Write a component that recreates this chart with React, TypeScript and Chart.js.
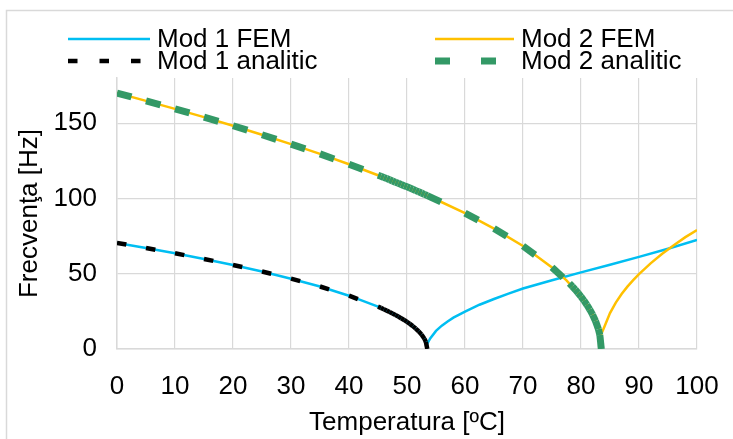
import React, { useEffect, useRef } from "react";
import { Chart, registerables } from "chart.js";

Chart.register(...registerables);

const FONT = '"Liberation Sans", Arial, Helvetica, sans-serif';

// ---- data ----
const seriesLabels = ["Mod 1 FEM", "Mod 2 FEM", "Mod 1 analitic", "Mod 2 analitic"];
const xAxisTitle = "Temperatura [ºC]";
const yAxisTitle = "Frecvenţa [Hz]";
const yTickValues = [0, 50, 100, 150];

const mod1FemT = [0, 5, 10, 15, 20, 25, 30, 35, 40, 45, 47.5, 50, 51, 52, 53, 53.5, 54, 55, 56, 57, 58, 60, 62.5, 65, 67.5, 70, 75, 80, 85, 90, 95, 100];
const mod1FemF = [70.5, 67.1, 63.6, 59.8, 55.8, 51.5, 46.7, 41.5, 35.4, 28.1, 23.6, 18.0, 15.2, 11.8, 7.0, 3.5, 7, 12, 15.5, 18.3, 20.8, 24.8, 29.4, 33.2, 36.8, 40.2, 45.7, 50.9, 56, 61.2, 66.6, 72.4];

const mod2FemT = [0, 5, 10, 15, 20, 25, 30, 35, 40, 45, 50, 55, 60, 65, 70, 75, 77.5, 80, 81, 82, 83, 83.5, 84, 85, 86, 87, 88, 89, 90, 92, 94, 96, 98, 100];
const mod2FemF = [170, 164.8, 159.5, 154.0, 148.3, 142.3, 136.1, 129.6, 122.7, 115.4, 107.7, 99.3, 90.2, 80.0, 68.4, 54.2, 45.6, 34.8, 29.4, 22.8, 15, 10, 14.5, 23.9, 30.8, 36.5, 41.4, 45.7, 49.7, 56.9, 63.2, 68.9, 74.3, 79.0];

const mod1AnT = [0, 5, 10, 15, 20, 25, 30, 35, 40, 45, 45.5, 46, 46.5, 47, 47.5, 48, 48.5, 49, 49.5, 50, 50.5, 51, 51.5, 52, 52.5, 53, 53.25, 53.5];
const mod1AnF = [70.5, 67.1, 63.6, 59.8, 55.8, 51.5, 46.7, 41.5, 35.4, 28.1, 27.3, 26.4, 25.5, 24.6, 23.6, 22.6, 21.6, 20.4, 19.3, 18.0, 16.7, 15.2, 13.6, 11.8, 9.6, 6.8, 4.8, 0];

const mod2AnT = [0, 5, 10, 15, 20, 25, 30, 35, 40, 45, 45.5, 46, 46.5, 47, 47.5, 48, 48.5, 49, 49.5, 50, 50.5, 51, 51.5, 52, 52.5, 53, 53.5, 60, 65, 70, 75, 78, 78.5, 79, 79.5, 80, 80.5, 81, 81.5, 82, 82.5, 83, 83.25, 83.5];
const mod2AnF = [170, 164.8, 159.5, 154.0, 148.3, 142.3, 136.1, 129.6, 122.7, 115.4, 114.7, 113.9, 113.2, 112.4, 111.6, 110.8, 110.1, 109.3, 108.5, 107.7, 106.9, 106.1, 105.2, 104.4, 103.6, 102.7, 101.9, 90.2, 80.0, 68.4, 54.2, 43.6, 41.6, 39.5, 37.2, 34.8, 32.2, 29.4, 26.3, 22.8, 18.6, 13.2, 9.3, 0];

// ---- styles ----
const CYAN = "#00BEF2";
const GOLD = "#FFC000";
const GREEN = "#339966";
const BLACK = "#000000";
const GRID = "#D9D9D9";
const FONT_SIZE = 26;

const toPoints = (xs: number[], ys: number[]) => xs.map((x, i) => ({ x, y: ys[i] }));

// restart the dash pattern on every segment (Excel-like)
const perSegmentDash = {
  borderDashOffset: (c: any) => (c.p0DataIndex % 2 === 0 ? 0 : 0.001),
};

const legendLayout = [
  { ds: 0, x0: 68, x1: 150, y: 39, tx: 157, ty: 47 },
  { ds: 1, x0: 435, x1: 514, y: 39, tx: 521, ty: 47 },
  { ds: 2, x0: 68, x1: 141, y: 61, tx: 157, ty: 69 },
  { ds: 3, x0: 435, x1: 514, y: 61, tx: 521, ty: 69 },
];

const framePlugin = {
  id: "frame",
  beforeDraw(chart: any) {
    const ctx = chart.ctx;
    ctx.save();
    ctx.fillStyle = "#ffffff";
    ctx.fillRect(0, 0, chart.width, chart.height);
    ctx.strokeStyle = GRID;
    ctx.lineWidth = 1.5;
    ctx.strokeRect(6.5, 10.5, 1000, 1000);
    ctx.restore();
  },
};

const legendPlugin = {
  id: "customLegend",
  afterDraw(chart: any) {
    const ctx = chart.ctx;
    ctx.save();
    for (const item of legendLayout) {
      const ds = chart.data.datasets[item.ds];
      ctx.beginPath();
      ctx.strokeStyle = ds.borderColor;
      ctx.lineWidth = ds.borderWidth;
      ctx.lineCap = "butt";
      ctx.setLineDash(ds.borderDash || []);
      ctx.moveTo(item.x0, item.y);
      ctx.lineTo(item.x1, item.y);
      ctx.stroke();
      ctx.setLineDash([]);
      ctx.fillStyle = "#000";
      ctx.font = `${FONT_SIZE}px ${FONT}`;
      ctx.textBaseline = "alphabetic";
      ctx.textAlign = "left";
      ctx.fillText(ds.label, item.tx, item.ty);
    }
    ctx.restore();
  },
};

export default function App() {
  const ref = useRef<HTMLCanvasElement>(null);

  useEffect(() => {
    const canvas = ref.current;
    if (!canvas) return;
    const chart = new Chart(canvas, {
      type: "line",
      data: {
        datasets: [
          {
            label: seriesLabels[0],
            data: toPoints(mod1FemT, mod1FemF),
            borderColor: CYAN,
            borderWidth: 2.5,
            pointRadius: 0,
            tension: 0,
            order: 4,
          },
          {
            label: seriesLabels[1],
            data: toPoints(mod2FemT, mod2FemF),
            borderColor: GOLD,
            borderWidth: 2.5,
            pointRadius: 0,
            tension: 0,
            order: 3,
          },
          {
            label: seriesLabels[2],
            data: toPoints(mod1AnT, mod1AnF),
            borderColor: BLACK,
            borderWidth: 4.5,
            borderDash: [9.5, 22],
            borderCapStyle: "butt",
            pointRadius: 0,
            tension: 0,
            order: 2,
            segment: perSegmentDash,
          },
          {
            label: seriesLabels[3],
            data: toPoints(mod2AnT, mod2AnF),
            borderColor: GREEN,
            borderWidth: 7,
            borderDash: [15, 31],
            borderCapStyle: "butt",
            pointRadius: 0,
            tension: 0,
            order: 1,
            segment: perSegmentDash,
          },
        ] as any,
      },
      options: {
        responsive: false,
        animation: false,
        devicePixelRatio: 1,
        layout: { padding: { top: 78, right: 36, left: 0, bottom: 0 } },
        plugins: {
          legend: { display: false },
          tooltip: { enabled: false },
        },
        scales: {
          x: {
            type: "linear",
            min: 0,
            max: 100,
            ticks: {
              stepSize: 10,
              color: "#000",
              font: { family: FONT, size: FONT_SIZE },
              padding: 22,
              maxRotation: 0,
              autoSkip: false,
            },
            grid: { color: GRID, drawTicks: false, lineWidth: 1.2 },
            border: { color: GRID, width: 1.5 },
            title: {
              display: true,
              text: xAxisTitle,
              color: "#000",
              font: { family: FONT, size: FONT_SIZE },
              padding: { top: 0, bottom: 1 },
            },
            afterFit: (s: any) => {
              s.height = 90;
              s.paddingLeft = 0;
              s.paddingRight = 0;
            },
          },
          y: {
            type: "linear",
            min: 0,
            max: 180,
            afterBuildTicks: (s: any) => {
              s.ticks = yTickValues.map((v) => ({ value: v }));
            },
            ticks: {
              stepSize: 50,
              color: "#000",
              font: { family: FONT, size: FONT_SIZE },
              padding: 20,
            },
            grid: { color: GRID, drawTicks: false, lineWidth: 1.2 },
            border: { color: GRID, width: 1.5 },
            title: {
              display: true,
              text: yAxisTitle,
              color: "#000",
              font: { family: FONT, size: FONT_SIZE },
              padding: { top: 14, bottom: 0 },
            },
            afterFit: (s: any) => {
              s.width = 117;
              s.paddingTop = 0;
              s.paddingBottom = 0;
            },
          },
        },
      } as any,
      plugins: [framePlugin, legendPlugin],
    });
    return () => chart.destroy();
  }, []);

  return (
    <div
      style={{
        position: "fixed",
        left: 0,
        top: 0,
        width: 733,
        height: 439,
        background: "#fff",
        overflow: "hidden",
      }}
    >
      <canvas ref={ref} width={733} height={439} style={{ display: "block" }} />
    </div>
  );
}
